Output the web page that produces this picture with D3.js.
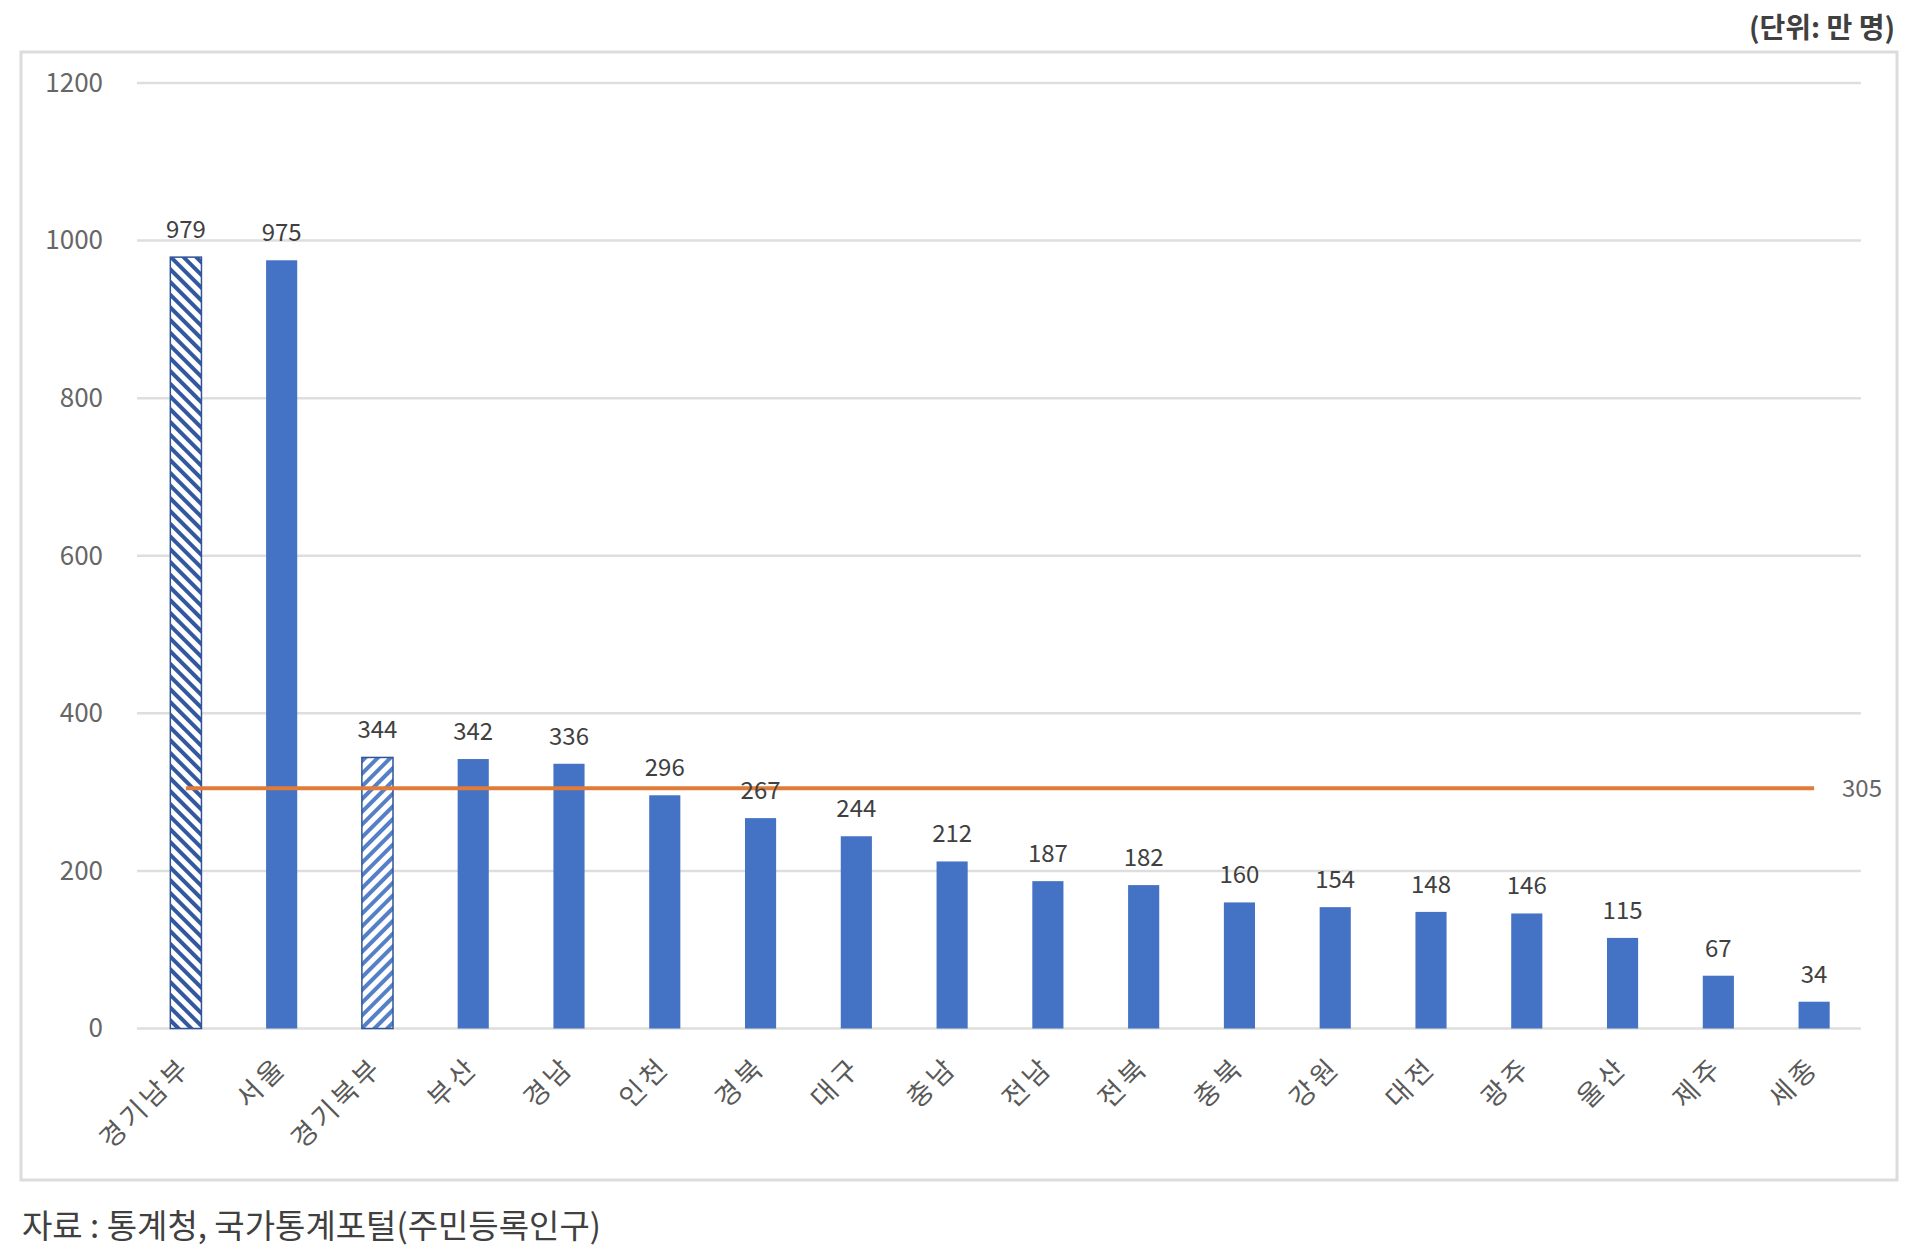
<!DOCTYPE html>
<html>
<head>
<meta charset="utf-8">
<script src="https://cdn.jsdelivr.net/npm/d3@7"></script>
<style>
  html, body { margin: 0; padding: 0; background: #fff; }
  svg text { font-family: "Noto Sans CJK KR", "Noto Sans", sans-serif; }
</style>
</head>
<body>
<div id="chart"></div>
<script>
// 시도별 인구 (단위: 만 명)
var regions = ["경기남부", "서울", "경기북부", "부산", "경남", "인천", "경북", "대구", "충남",
               "전남", "전북", "충북", "강원", "대전", "광주", "울산", "제주", "세종"];
var population = [979, 975, 344, 342, 336, 296, 267, 244, 212, 187, 182, 160, 154, 148, 146, 115, 67, 34];
var hatched = ["경기남부", "경기북부"];
var average = 305;
var yTicks = [0, 200, 400, 600, 800, 1000, 1200];

var W = 1920, H = 1251;
var svg = d3.select("#chart").append("svg")
            .attr("width", W)
            .attr("height", H)
            .style("background-color", "white");

// hatch patterns for 경기 남부 / 북부
var defs = svg.append("defs");
function hatch(id, angle, color) {
  var p = defs.append("pattern")
      .attr("id", id)
      .attr("patternUnits", "userSpaceOnUse")
      .attr("width", 9)
      .attr("height", 9)
      .attr("patternTransform", "rotate(" + angle + ")");
  p.append("rect").attr("width", 9).attr("height", 9).attr("fill", "#ffffff");
  p.append("rect").attr("width", 4).attr("height", 9).attr("fill", color);
}
hatch("hatchSouth", -45, "#34589f");
hatch("hatchNorth", 45, "#5580c8");

// outer frame
svg.append("rect")
   .attr("x", 21).attr("y", 52)
   .attr("width", 1876).attr("height", 1128)
   .attr("fill", "none")
   .attr("stroke", "#dcdcdc")
   .attr("stroke-width", 3);

var x = d3.scaleBand()
          .domain(regions)
          .range([138, 1862])
          .paddingInner(0.675)
          .paddingOuter(0.3375);

var y = d3.scaleLinear()
          .domain([0, 1200])
          .range([1028.5, 83]);

// gridlines
svg.append("g").selectAll("line")
   .data(yTicks)
   .enter().append("line")
   .attr("x1", 137).attr("x2", 1861)
   .attr("y1", function (d) { return y(d); })
   .attr("y2", function (d) { return y(d); })
   .attr("stroke", "#dedede")
   .attr("stroke-width", 2.5);

// y axis labels
var yAxis = d3.axisLeft(y).tickValues(yTicks).tickFormat(d3.format("d")).tickSize(0).tickPadding(0);
var yg = svg.append("g").attr("transform", "translate(103,0)").call(yAxis);
yg.select(".domain").remove();
yg.selectAll("text")
  .attr("fill", "#666666")
  .style("font-size", "26px");

// bars
svg.append("g").selectAll("rect")
   .data(regions)
   .enter().append("rect")
   .attr("x", function (d) { return x(d); })
   .attr("y", function (d, i) { return y(population[i]); })
   .attr("width", x.bandwidth())
   .attr("height", function (d, i) { return y(0) - y(population[i]); })
   .attr("fill", function (d) {
     if (d == "경기남부") return "url(#hatchSouth)";
     if (d == "경기북부") return "url(#hatchNorth)";
     return "#4472c4";
   })
   .attr("stroke", function (d) { return hatched.indexOf(d) >= 0 ? "#2f5597" : "none"; })
   .attr("stroke-width", 1.5);

// average line
var first = regions[0], last = regions[regions.length - 1];
svg.append("line")
   .attr("x1", x(first) + x.bandwidth() / 2)
   .attr("x2", x(last) + x.bandwidth() / 2)
   .attr("y1", y(average))
   .attr("y2", y(average))
   .attr("stroke", "#e07b39")
   .attr("stroke-width", 4);

svg.append("text")
   .attr("x", 1842)
   .attr("y", y(average) + 9)
   .attr("fill", "#666666")
   .style("font-size", "24px")
   .text(average);

// x axis labels (rotated)
svg.append("g").selectAll("text")
   .data(regions)
   .enter().append("text")
   .attr("transform", function (d) {
     return "translate(" + (x(d) + x.bandwidth() / 2) + ",1062) rotate(-45)";
   })
   .attr("text-anchor", "end")
   .attr("dy", "0.35em")
   .attr("fill", "#595959")
   .style("font-size", "27px")
   .style("letter-spacing", "4px")
   .text(function (d) { return d; });

// data labels
svg.append("g").selectAll("text")
   .data(regions)
   .enter().append("text")
   .attr("x", function (d) { return x(d) + x.bandwidth() / 2; })
   .attr("y", function (d, i) { return y(population[i]) - 19; })
   .attr("text-anchor", "middle")
   .attr("fill", "#404040")
   .style("font-size", "24px")
   .text(function (d, i) { return population[i]; });

// unit and source
svg.append("text")
   .attr("x", 1895).attr("y", 38)
   .attr("text-anchor", "end")
   .attr("fill", "#404040")
   .style("font-size", "28px")
   .style("font-weight", "bold")
   .text("(단위: 만 명)");

svg.append("text")
   .attr("x", 22).attr("y", 1238)
   .attr("fill", "#404040")
   .style("font-size", "33px")
   .text("자료 : 통계청, 국가통계포털(주민등록인구)");
</script>
</body>
</html>
